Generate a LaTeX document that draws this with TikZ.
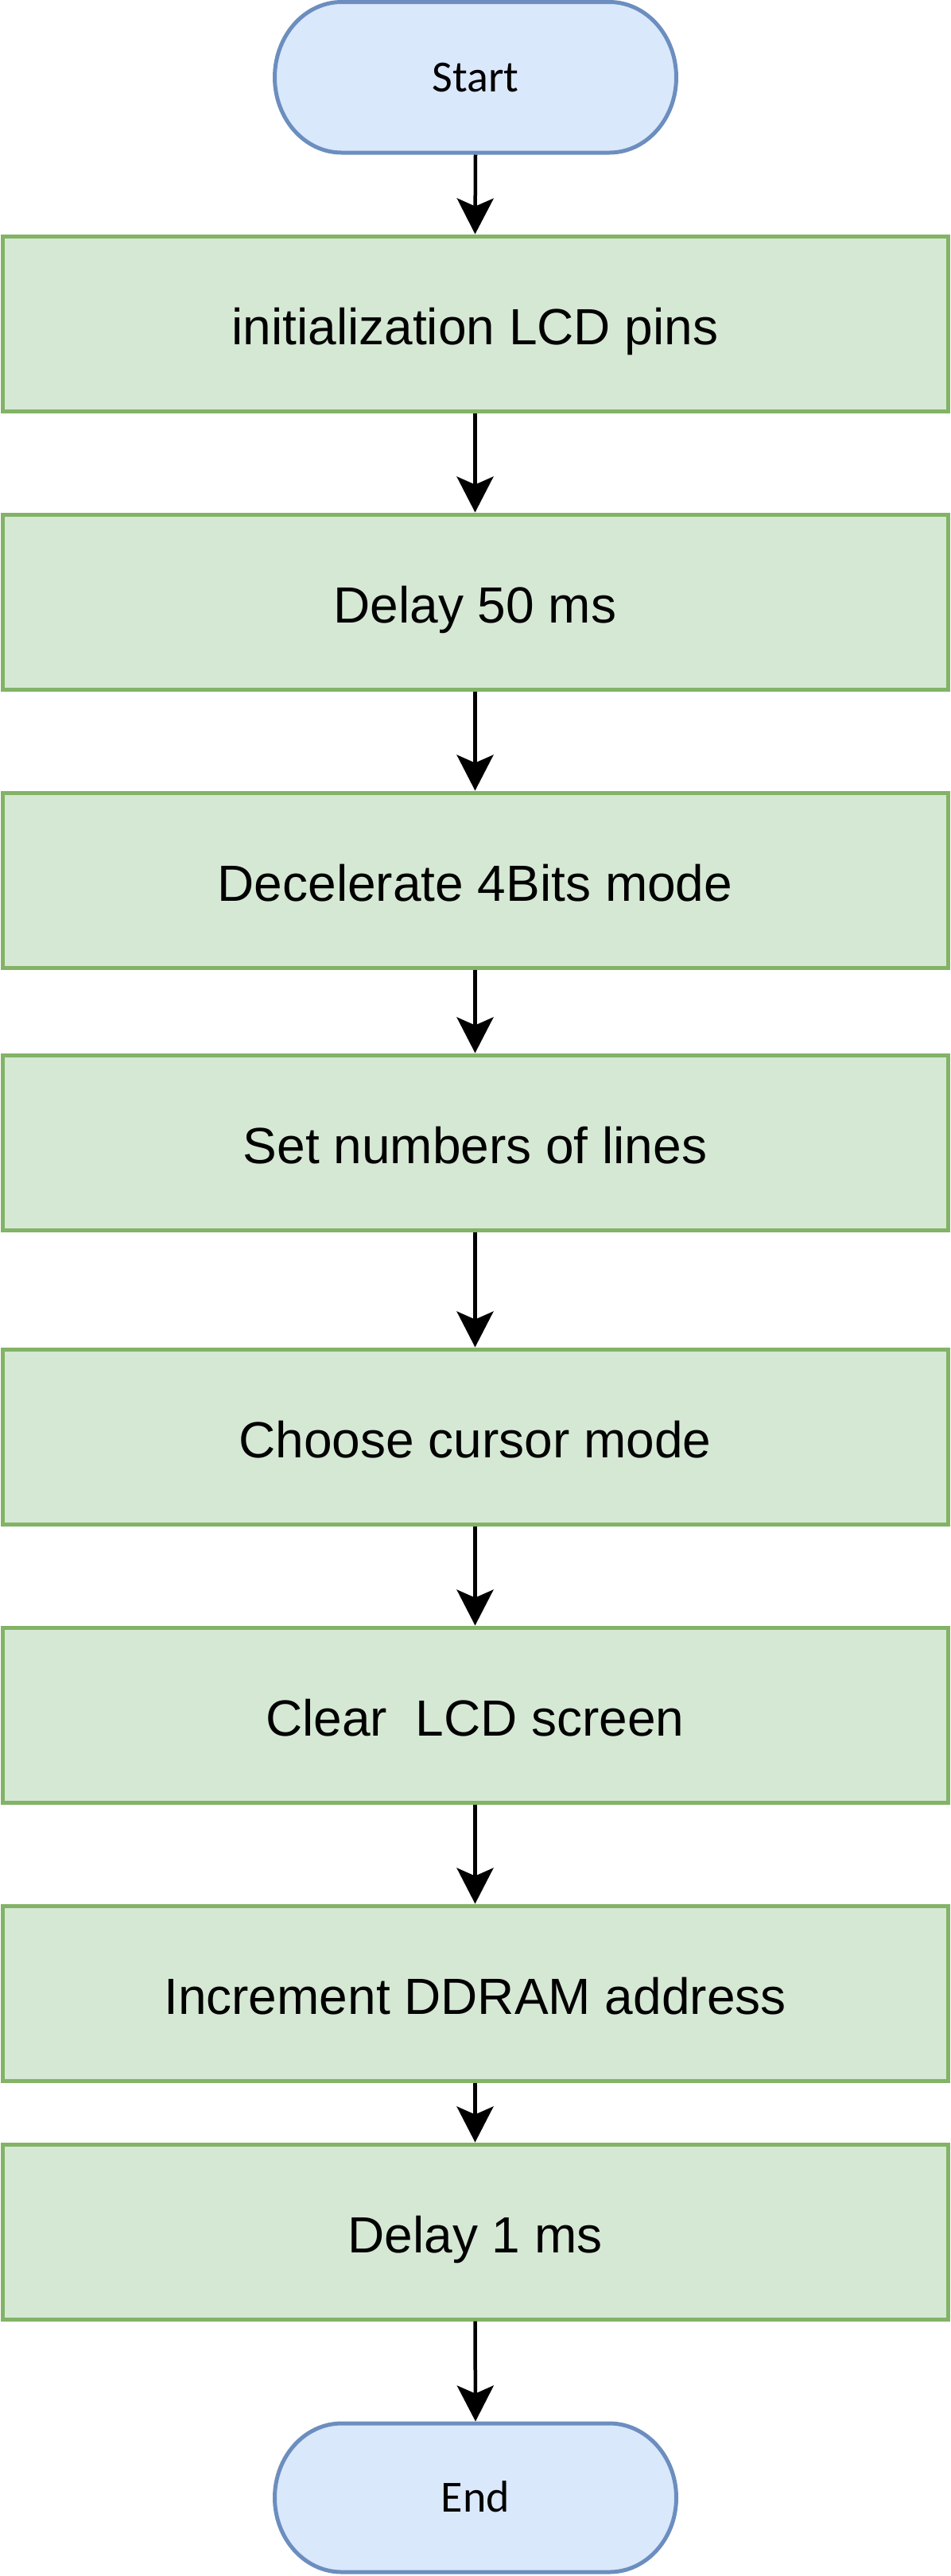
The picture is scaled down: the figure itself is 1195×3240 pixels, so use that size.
\documentclass[tikz,border=0pt]{standalone}
\usepackage{fontspec}
\setmainfont{Liberation Sans}
\newfontfamily\calibfont{Carlito}
\usetikzlibrary{arrows.meta}
\definecolor{gfill}{HTML}{D5E8D4}
\definecolor{gline}{HTML}{82B366}
\definecolor{bfill}{HTML}{DAE8FC}
\definecolor{bline}{HTML}{6C8EBF}
\begin{document}
\begin{tikzpicture}[x=1pt,y=-1pt,
  procbox/.style={draw=gline, fill=gfill, line width=5pt, minimum width=1189pt, minimum height=220pt, inner sep=0pt, font=\fontsize{64}{77}\selectfont, text height=64pt, text depth=11pt},
  termtext/.style={minimum width=510pt, minimum height=194.5pt, inner sep=0pt, outer sep=0pt, font=\calibfont\fontsize{56}{67}\selectfont, text height=45pt, text depth=9pt},
  termshape/.style={draw=bline, fill=bfill, line width=5pt},
  flow/.style={draw=black, line width=4.5pt, -{Stealth[length=45pt, width=46pt, inset=10pt]}}]
\useasboundingbox (0,0) rectangle (1195,3240);

% terminator shapes
\draw[termshape] (429.7,2.5) -- (766.3,2.5) arc[start angle=-90, end angle=90, x radius=84.2, y radius=94.75] -- (429.7,192) arc[start angle=90, end angle=270, x radius=84.2, y radius=94.75] -- cycle;
\draw[termshape] (429.7,3048) -- (766.3,3048) arc[start angle=-90, end angle=90, x radius=84.2, y radius=93.5] -- (429.7,3235) arc[start angle=90, end angle=270, x radius=84.2, y radius=93.5] -- cycle;

\node[termtext] (start) at (598,97.25) {Start};
\node[termtext, minimum height=192pt] (end) at (598,3141.5) {End};

\node[procbox] (b1) at (597.5,407) {initialization LCD pins};
\node[procbox] (b2) at (597.5,757) {Delay 50 ms};
\node[procbox] (b3) at (597.5,1107) {Decelerate 4Bits mode};
\node[procbox] (b4) at (597.5,1437) {Set numbers of lines};
\node[procbox] (b5) at (597.5,1807) {Choose cursor mode};
\node[procbox] (b6) at (597.5,2157) {Clear\ \ LCD screen};
\node[procbox] (b7) at (597.5,2507) {Increment DDRAM address};
\node[procbox] (b8) at (597.5,2807) {Delay 1 ms};

\draw[flow] (start.south) -- (b1.north);
\draw[flow] (b1.south) -- (b2.north);
\draw[flow] (b2.south) -- (b3.north);
\draw[flow] (b3.south) -- (b4.north);
\draw[flow] (b4.south) -- (b5.north);
\draw[flow] (b5.south) -- (b6.north);
\draw[flow] (b6.south) -- (b7.north);
\draw[flow] (b7.south) -- (b8.north);
\draw[flow] (b8.south) -- (end.north);
\end{tikzpicture}
\end{document}
